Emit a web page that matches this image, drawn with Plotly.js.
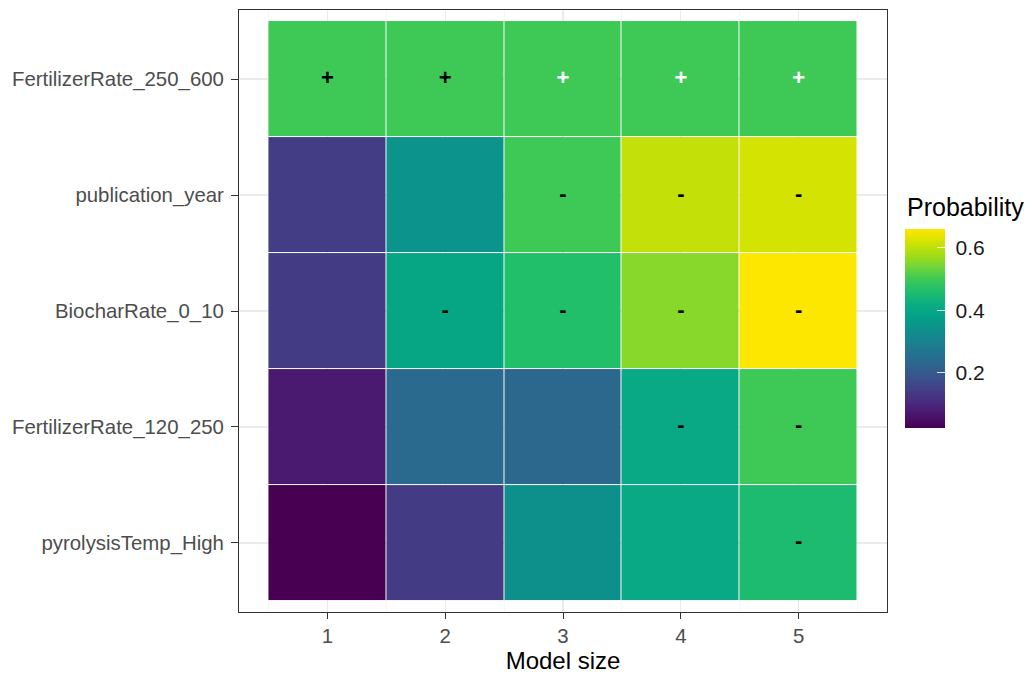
<!DOCTYPE html>
<html>
<head>
<meta charset="utf-8">
<script src="https://cdn.plot.ly/plotly-3.0.1.min.js"></script>
<style>html,body{margin:0;padding:0;background:#fff;}#chart{width:1032px;height:674px;}</style>
</head>
<body>
<div id="chart"></div>
<script>
// Data
const modelSizes = [1, 2, 3, 4, 5];
const variables = ["pyrolysisTemp_High", "FertilizerRate_120_250", "BiocharRate_0_10", "publication_year", "FertilizerRate_250_600"];
// Probability per variable (rows, bottom to top) and model size (columns)
const probPyrolysis = [0.024, 0.14, 0.339, 0.405, 0.455];
const probFert120 = [0.075, 0.24, 0.232, 0.405, 0.50];
const probBiochar = [0.138, 0.397, 0.465, 0.555, 0.66];
const probPubYear = [0.142, 0.345, 0.50, 0.605, 0.62];
const probFert250 = [0.50, 0.50, 0.50, 0.50, 0.50];
// Sign labels
const signPyrolysis = ["", "", "", "", "-"];
const signFert120 = ["", "", "", "-", "-"];
const signBiochar = ["", "-", "-", "-", "-"];
const signPubYear = ["", "", "-", "-", "-"];
const signFert250 = ["+", "+", "+", "+", "+"];
const signColorFert250 = ["black", "black", "white", "white", "white"];
const colorbarTicks = [0.2, 0.4, 0.6];

const zRows = [probPyrolysis, probFert120, probBiochar, probPubYear, probFert250];
const signRows = [signPyrolysis, signFert120, signBiochar, signPubYear, signFert250];

const tx = [], ty = [], tt = [], tc = [];
signRows.forEach((row, i) => {
  row.forEach((s, j) => {
    if (s) {
      tx.push(modelSizes[j]); ty.push(variables[i]); tt.push(s);
      tc.push(i === 4 ? signColorFert250[j] : "black");
    }
  });
});

const viridisVivid = [[0,'#470052'],[0.0627,'#4a146b'],[0.1255,'#482a7d'],[0.1882,'#433e86'],[0.2510,'#3a528c'],[0.3137,'#2f648e'],[0.3765,'#23738f'],[0.4392,'#18838f'],[0.5020,'#0c928c'],[0.5647,'#03a188'],[0.6275,'#0caf80'],[0.6902,'#20be6c'],[0.7529,'#40ca55'],[0.8157,'#78d636'],[0.8784,'#a9de12'],[0.9412,'#d7e300'],[1,'#fde600']];

const FONT = 'Liberation Sans, Arial, sans-serif';

const heat = {
  type: 'heatmap',
  x: modelSizes,
  y: variables,
  z: zRows,
  colorscale: viridisVivid,
  zmin: 0.024, zmax: 0.66,
  xgap: 1, ygap: 1,
  hoverinfo: 'x+y+z',
  colorbar: {
    thickness: 40, thicknessmode: 'pixels',
    len: 199, lenmode: 'pixels',
    x: 1.028, xanchor: 'left', xpad: 0,
    y: 0.471, yanchor: 'middle', ypad: 0,
    outlinewidth: 0,
    tickvals: colorbarTicks,
    ticktext: colorbarTicks.map(v => '\u00a0' + v.toFixed(1)),
    ticks: 'inside', ticklen: 8, tickcolor: 'rgba(255,255,255,0.85)', tickwidth: 1.2,
    tickfont: {family: FONT, size: 21, color: '#1a1a1a'}
  }
};

const signs = {
  type: 'scatter', mode: 'text',
  x: tx, y: ty, text: tt,
  textposition: 'middle center',
  textfont: {family: FONT, size: 22, color: tc, weight: 'bold'},
  hoverinfo: 'skip', showlegend: false
};

const axFont = {family: FONT, size: 20.4, color: '#4d4d4d'};

const layout = {
  width: 1032, height: 674,
  margin: {l: 239, r: 145, t: 10, b: 62},
  paper_bgcolor: '#ffffff', plot_bgcolor: '#ffffff',
  showlegend: false,
  annotations: [{
    text: 'Probability', xref: 'paper', yref: 'paper', x: 1.028, y: 0.673,
    xanchor: 'left', yanchor: 'middle', showarrow: false,
    font: {family: FONT, size: 25, color: '#000'}
  }],
  xaxis: {
    range: [0.25, 5.75], tickvals: modelSizes, ticktext: modelSizes.map(String),
    showline: true, mirror: true, linecolor: '#333333', linewidth: 1,
    ticks: 'outside', ticklen: 6, tickcolor: '#333333', tickwidth: 1,
    showgrid: true, gridcolor: '#ebebeb', gridwidth: 1.2, zeroline: false,
    minor: {tickvals: [0.5, 1.5, 2.5, 3.5, 4.5, 5.5], showgrid: true, gridcolor: '#f2f2f2', gridwidth: 0.6},
    tickfont: axFont,
    title: {text: 'Model size', font: {family: FONT, size: 24, color: '#000'}, standoff: 4}
  },
  yaxis: {
    type: 'category', categoryorder: 'array', categoryarray: variables,
    range: [-0.595, 4.595],
    showline: true, mirror: true, linecolor: '#333333', linewidth: 1,
    ticks: 'outside', ticklen: 7, tickcolor: '#333333', tickwidth: 1,
    ticklabelstandoff: 3,
    showgrid: true, gridcolor: '#ebebeb', gridwidth: 1.2, zeroline: false,
    tickfont: axFont, automargin: false
  }
};

Plotly.newPlot('chart', [heat, signs], layout, {displayModeBar: false, staticPlot: true});
</script>
</body>
</html>
